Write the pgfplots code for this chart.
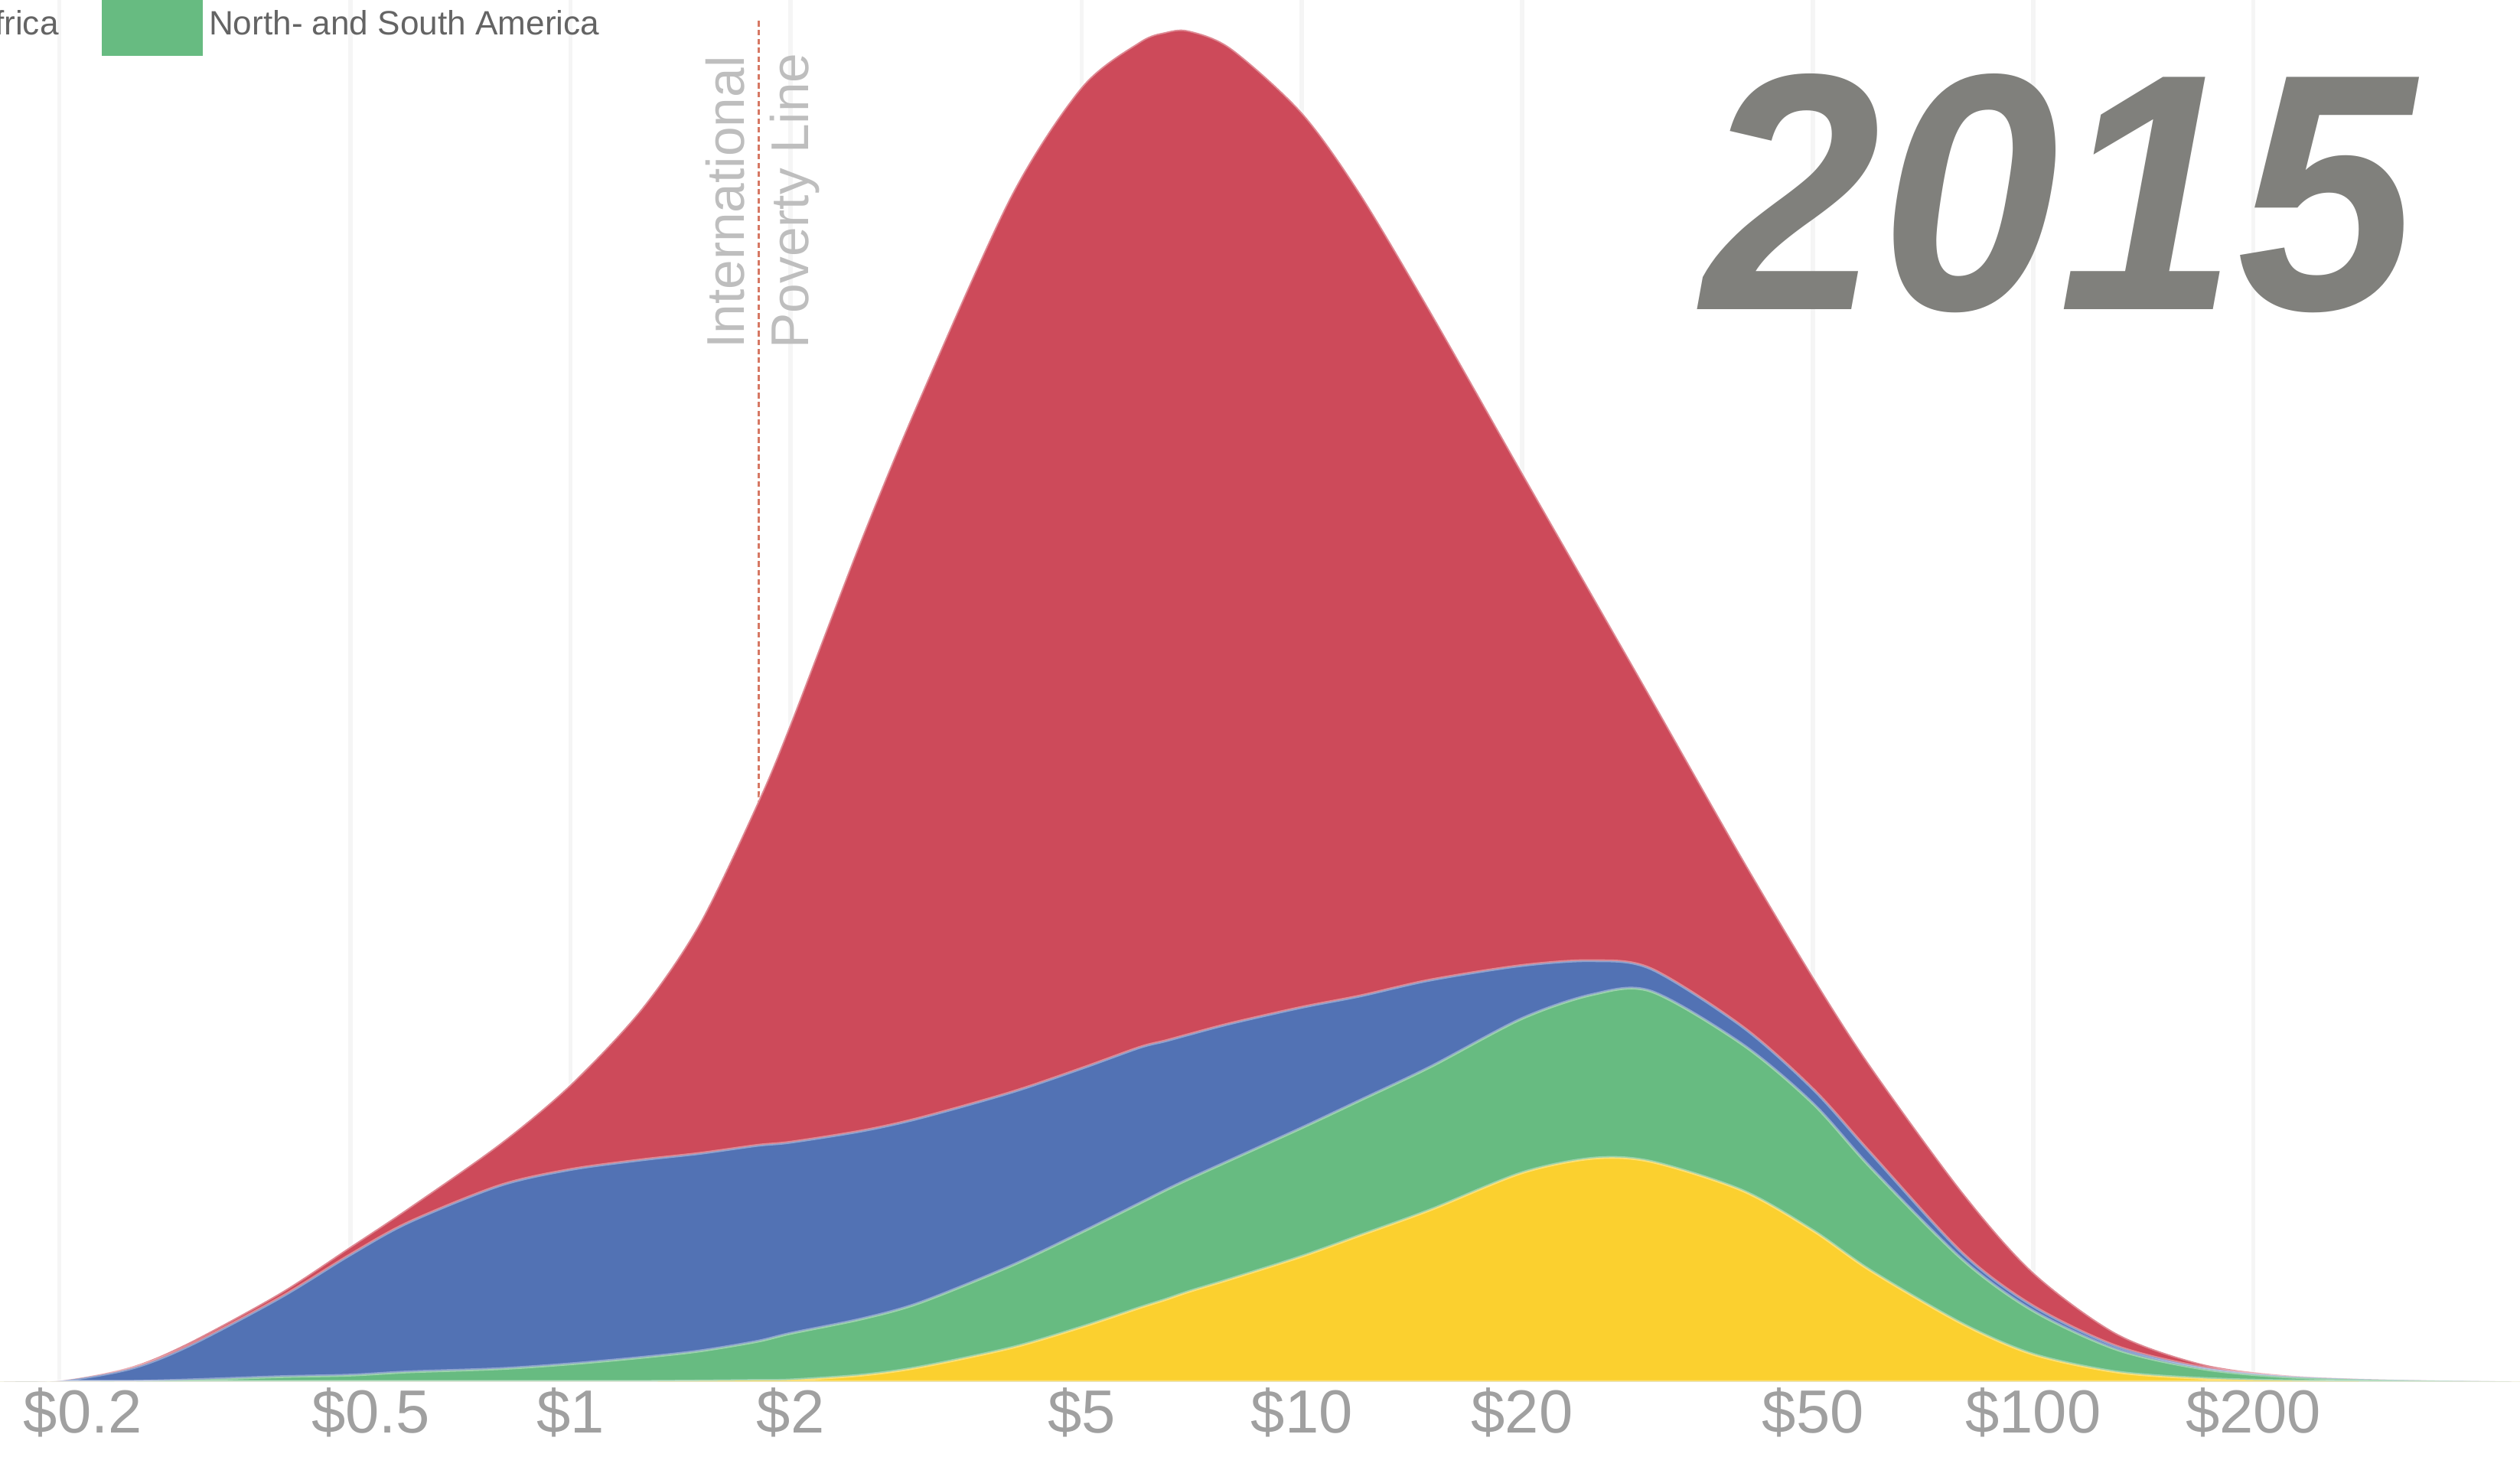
\documentclass[border=0pt]{standalone}
\usepackage{fontspec}
\setmainfont{Liberation Sans}
\usepackage{pgfplots}
\pgfplotsset{compat=1.18}
\usepackage{pgfplotstable}

\definecolor{asiared}{RGB}{205,74,90}
\definecolor{africablue}{RGB}{82,114,180}
\definecolor{amgreen}{RGB}{103,187,129}
\definecolor{euyellow}{RGB}{251,208,47}
\definecolor{tickgray}{RGB}{160,160,160}
\definecolor{yeargray}{RGB}{128,128,124}
\definecolor{povline}{RGB}{214,120,100}
\definecolor{povtext}{RGB}{190,190,190}
\definecolor{legtext}{RGB}{100,100,100}

% cumulative tops of the stacked layers: T = all, B = up to blue, G = up to green, Y = yellow
\pgfplotstableread{
x     T    B    G    Y
0.166 0    0    0    0
0.2   0.5  0.4  0    0
0.25  9    8    0    0
0.3   24   22   1    0
0.4   55   52   3    0
0.5   84   79   4    0
0.6   108  99   6    0
0.8   148  122  8    0
1     185  132  11   0
1.25  232  138  15   0
1.5   285  142  19   0.3
1.8   360  147  25   0.7
2     410  149  30   1
2.5   525  156  39   4
3     612  164  49   9
4     738  180  72   21
5     806  195  93   34
6     834  208  111  46
6.5   840  212  119  51
7     841  216  126  56
8     830  223  138  64
10    790  233  158  78
12    740  240  175  91
15    666  250  196  107
20    566  259  226  130
25    489  262  241  139
30    426  257  243  137
40    326  221  210  119
50    252  182  173  94
60    196  142  133  69
80    118  80   76   36
100   68   47   44   17
130   30   22   20   6
170   11   9    8    2
220   4    3.5  3    0.5
300   1.3  1.2  1    0
463   0    0    0    0
}\dist

\begin{document}
\begin{tikzpicture}
\useasboundingbox (0,-0.479) rectangle (16,8.772);
\clip (0,-0.479) rectangle (16,8.772);
\begin{axis}[
  at={(0,0)}, anchor=south west,
  scale only axis, width=16cm, height=8.772cm,
  xmode=log, log basis x=10,
  xmin=0.1659, xmax=463, ymin=0, ymax=860,
  axis line style={draw=none},
  ytick=\empty,
  xtick={0.2,0.5,1,2,5,10,20,50,100,200},
  xticklabels={\hspace*{0.3cm}\$0.2,\hspace*{0.26cm}\$0.5,\$1,\$2,\$5,\$10,\$20,\$50,\$100,\$200},
  major tick length=0pt,
  xmajorgrids, grid style={color=black!4, line width=0.8pt},
  xticklabel style={font=\fontsize{11}{11}\selectfont, text=tickgray, inner sep=1pt},
]
\draw[povline, line width=0.4pt, dash pattern=on 1pt off 0.6pt] (axis cs:1.81,0) -- (axis cs:1.81,848);
\addplot[fill=asiared, draw=white, draw opacity=0.35, line width=0.5pt, smooth, tension=0.5]
  table[x=x, y=T] {\dist} \closedcycle;
\addplot[fill=africablue, draw=white, draw opacity=0.35, line width=0.5pt, smooth, tension=0.5]
  table[x=x, y=B] {\dist} \closedcycle;
\addplot[fill=amgreen, draw=white, draw opacity=0.35, line width=0.5pt, smooth, tension=0.5]
  table[x=x, y=G] {\dist} \closedcycle;
\addplot[fill=euyellow, draw=white, draw opacity=0.35, line width=0.5pt, smooth, tension=0.5]
  table[x=x, y=Y] {\dist} \closedcycle;
\end{axis}

% cropped legend at the top
\node[anchor=base east, inner sep=0, font=\fontsize{6.1}{6.1}\selectfont, text=legtext] at (0.379,8.553) {Africa};
\fill[amgreen] (0.646,8.417) rectangle (1.288,8.85);
\node[anchor=base west, inner sep=0, font=\fontsize{6.1}{6.1}\selectfont, text=legtext] at (1.32,8.553) {North- and South America};

% poverty line label
\node[rotate=90, anchor=base west, inner sep=0, font=\fontsize{9.6}{9.6}\selectfont, text=povtext] at (4.723,6.551) {International};
\node[rotate=90, anchor=base west, inner sep=0, font=\fontsize{9.6}{9.6}\selectfont, text=povtext] at (5.131,6.551) {Poverty Line};

% year
\node[inner sep=0, xscale=0.95, font=\fontsize{61}{61}\selectfont\bfseries\itshape, text=yeargray] at (13.075,7.546) {2015};
\end{tikzpicture}
\end{document}
